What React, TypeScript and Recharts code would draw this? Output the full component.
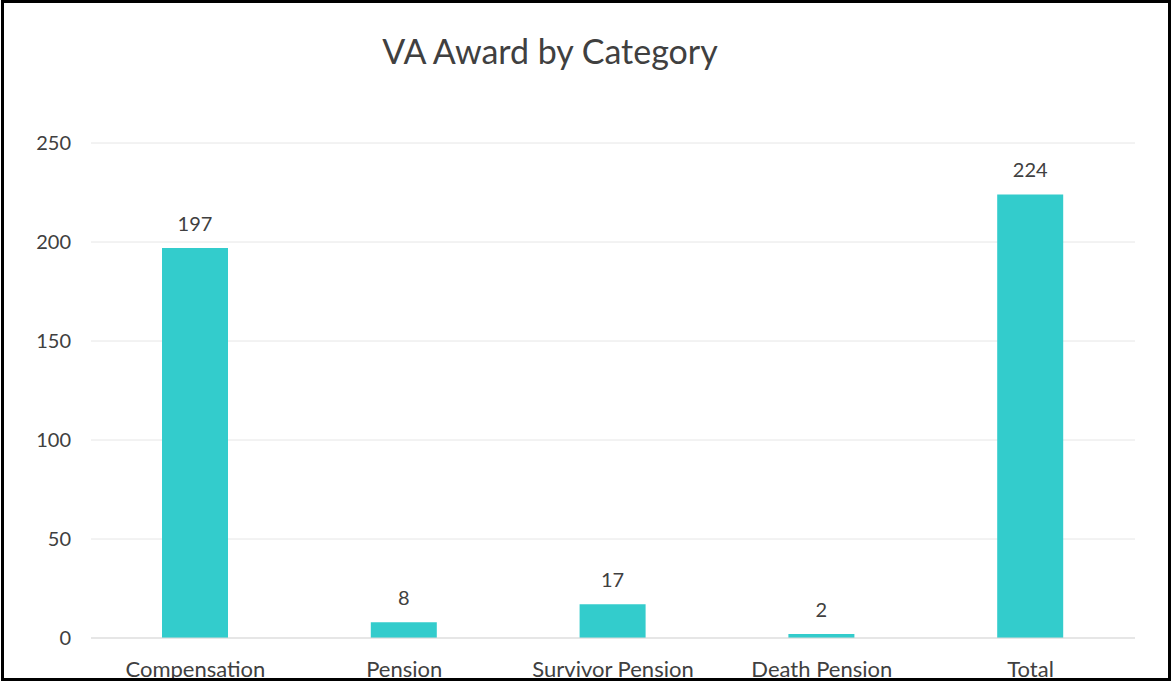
import React from "react";
import { BarChart, Bar, XAxis, YAxis, CartesianGrid, LabelList } from "recharts";

// values
const categories = ["Compensation", "Pension", "Survivor Pension", "Death Pension", "Total"];
const awards = [197, 8, 17, 2, 224];
const yTicks = [0, 50, 100, 150, 200, 250];

const data = categories.map((name, i) => ({ name, value: awards[i] }));

const font = "Lato, 'Open Sans', sans-serif";
const textColor = "#404040";

const App = () => {
  return (
    <div
      style={{
        position: "absolute",
        left: 1,
        top: 0,
        width: 1170,
        height: 681,
        boxSizing: "border-box",
        border: "3px solid #000",
        background: "#fff",
        fontFamily: font,
      }}
    >
      <div
        style={{
          position: "absolute",
          left: 0,
          top: 27,
          width: 1092,
          textAlign: "center",
          fontSize: 34,
          color: textColor,
        }}
      >
        VA Award by Category
      </div>
      <BarChart
        width={1164}
        height={675}
        data={data}
        margin={{ top: 140, right: 33, bottom: 0, left: 0 }}
      >
        <CartesianGrid vertical={false} stroke="#e6e6e6" />
        <XAxis
          dataKey="name"
          interval={0}
          tickLine={false}
          axisLine={{ stroke: "#d9d9d9" }}
          tick={{ fill: textColor, fontSize: 22, fontFamily: font }}
          tickMargin={17}
          height={40}
        />
        <YAxis
          domain={[0, 250]}
          ticks={yTicks}
          axisLine={false}
          tickLine={false}
          tickSize={0}
          tickMargin={20}
          width={87}
          tick={{ fill: textColor, fontSize: 20, fontFamily: font }}
        />
        <Bar dataKey="value" fill="#33CCCC" barSize={66} isAnimationActive={false}>
          <LabelList
            dataKey="value"
            position="top"
            offset={17}
            style={{ fill: textColor, fontSize: 20, fontFamily: font }}
          />
        </Bar>
      </BarChart>
    </div>
  );
};

export default App;
